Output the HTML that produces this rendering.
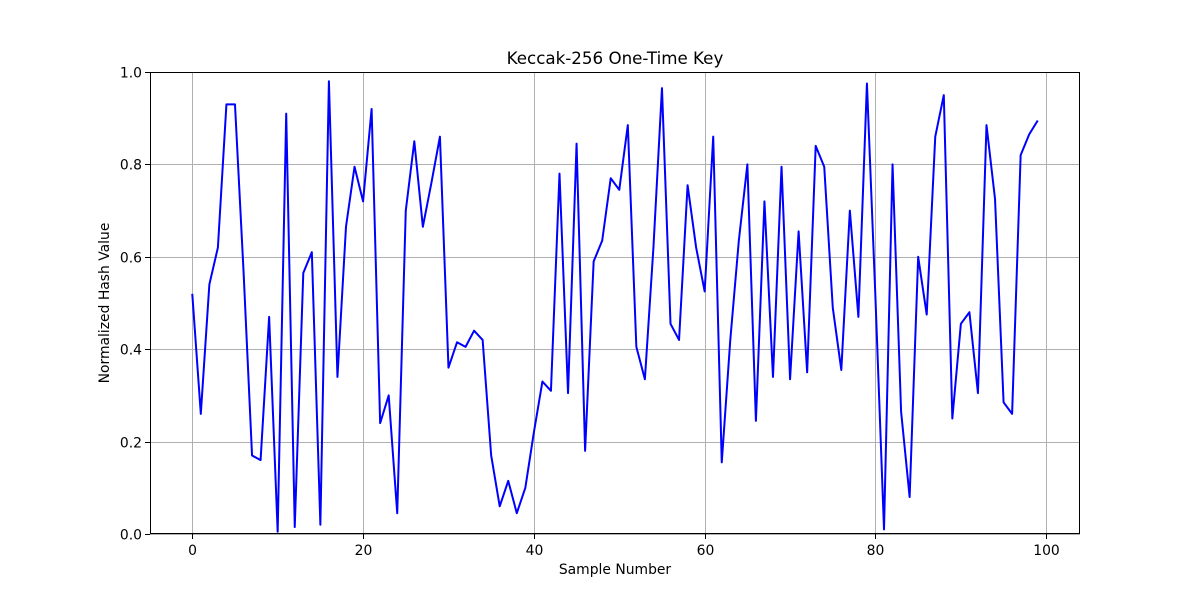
<!DOCTYPE html>
<html><head><meta charset="utf-8"><style>
body{margin:0;background:#fff;}
svg{display:block;font-family:"DejaVu Sans","Liberation Sans",sans-serif;}
</style></head><body>
<svg id="chart" width="1200" height="600">
<rect width="1200" height="600" fill="#fff"/>
<g id="grid"></g>
<g id="axes"></g>
<polyline id="line" fill="none" stroke="#0000ff" stroke-width="2" stroke-linejoin="round"/>
<rect x="150.5" y="72.5" width="929" height="461" fill="none" stroke="#000" stroke-width="1"/>
<text x="615" y="64" text-anchor="middle" font-size="16.7">Keccak-256 One-Time Key</text>
<text x="615" y="574" text-anchor="middle" font-size="13.9">Sample Number</text>
<text transform="translate(109,303) rotate(-90)" text-anchor="middle" font-size="13.9">Normalized Hash Value</text>
</svg>
<script>
const values = [0.52,0.26,0.54,0.62,0.93,0.93,0.57,0.17,0.16,0.47,0.005,0.91,0.015,0.565,0.61,0.02,0.98,0.34,0.665,0.795,0.72,0.92,0.24,0.30,0.045,0.70,0.85,0.665,0.76,0.86,0.36,0.415,0.405,0.44,0.42,0.17,0.06,0.115,0.045,0.10,0.22,0.33,0.31,0.78,0.305,0.845,0.18,0.59,0.635,0.77,0.745,0.885,0.405,0.335,0.62,0.965,0.455,0.42,0.755,0.62,0.525,0.86,0.155,0.42,0.635,0.80,0.245,0.72,0.34,0.795,0.335,0.655,0.35,0.84,0.795,0.49,0.355,0.70,0.47,0.975,0.51,0.01,0.80,0.265,0.08,0.60,0.475,0.86,0.95,0.25,0.455,0.48,0.305,0.885,0.725,0.285,0.26,0.82,0.865,0.895];
const xTicks = [0,20,40,60,80,100];
const yTicks = [0.0,0.2,0.4,0.6,0.8,1.0];
const yTickLabels = ["0.0","0.2","0.4","0.6","0.8","1.0"];
const X0=150,X1=1080,Y0=534,Y1=72;
const xMin=-4.95,xMax=103.95;
function sx(v){return X0+(v-xMin)/(xMax-xMin)*(X1-X0);}
function sy(v){return Y0-v*(Y0-Y1);}
const NS="http://www.w3.org/2000/svg";
const grid=document.getElementById('grid'),axes=document.getElementById('axes');
function mk(tag,attrs,parent){const e=document.createElementNS(NS,tag);for(const k in attrs)e.setAttribute(k,attrs[k]);parent.appendChild(e);return e;}
xTicks.forEach(t=>{
  const x=Math.round(sx(t))+0.5;
  const g=mk('line',{x1:x,x2:x,y1:Y1,y2:Y0,stroke:'#b0b0b0','stroke-width':1},grid);
  
  
  const tk=mk('line',{x1:x,x2:x,y1:Y0,y2:Y0+5,stroke:'#000','stroke-width':1},axes);
  
  
  const tx=mk('text',{x:x,y:Y0+21,'text-anchor':'middle','font-size':13.9},axes);
  tx.textContent=t;
  
  
});
yTicks.forEach((t,i)=>{
  const y=Math.round(sy(t))+0.5;
  const g=mk('line',{x1:X0,x2:X1,y1:y,y2:y,stroke:'#b0b0b0','stroke-width':1},grid);
  
  
  const tk=mk('line',{x1:X0-5,x2:X0,y1:y,y2:y,stroke:'#000','stroke-width':1},axes);
  
  
  const tx=mk('text',{x:X0-8,y:y+5,'text-anchor':'end','font-size':13.9},axes);
  tx.textContent=yTickLabels[i];
  
  
});
document.getElementById('line').setAttribute('points',values.map((v,i)=>sx(i).toFixed(2)+','+sy(v).toFixed(2)).join(' '));
</script>
</body></html>
